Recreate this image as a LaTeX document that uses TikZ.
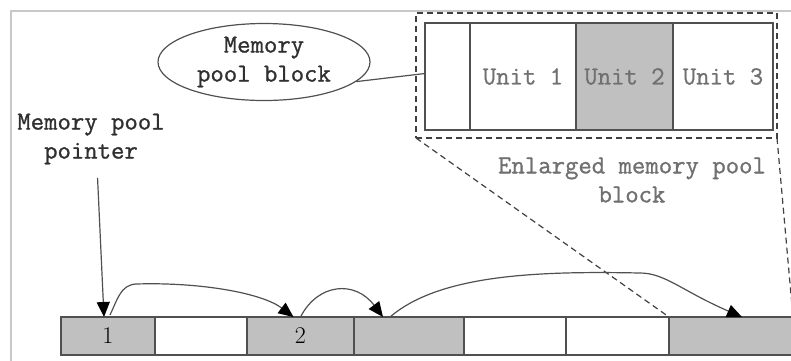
\documentclass[tikz,border=0pt]{standalone}
\usepackage{fontspec}
\usepackage{tikz}
\usetikzlibrary{positioning,arrows.meta,calc,shapes.geometric}
\newfontfamily\poolfont[FakeBold=1]{Latin Modern Mono}
\definecolor{poolcell}{HTML}{C0C0C0}
\definecolor{poolline}{HTML}{505050}
\definecolor{pooltext}{HTML}{303030}
\definecolor{poolhint}{HTML}{707070}
\definecolor{poolframe}{HTML}{C8C8C8}

\begin{document}
\begin{tikzpicture}[x=1pt, y=-1pt, line width=1.2pt,
    cell/.style={draw=poolline, rectangle, outer sep=0pt, inner sep=0pt, minimum height=38pt},
    unit/.style={draw=poolline, rectangle, outer sep=0pt, inner sep=0pt, minimum height=107pt,
      text=poolhint, font=\fontsize{26}{29}\selectfont\poolfont},
    lbl/.style={align=center, inner sep=1pt, font=\fontsize{26}{29}\selectfont\poolfont},
    num/.style={font=\fontsize{24}{24}\selectfont\rmfamily},
    link/.style={draw=poolline, -{Triangle[length=15pt,width=13pt,color=black]}},
    zoomline/.style={draw=black!75, dash pattern=on 6pt off 4pt}]
    \clip (0,0) rectangle (791,360);
    % frame of the page
    \draw[poolframe, line width=1.5pt] (11,362) -- (11,11) -- (793,11);
    % enlarged block
    \node[zoomline, minimum width=361pt, minimum height=125pt, outer sep=0pt] (zoombox) at (596.5,75.5) {};
    \node[unit, minimum width=45pt] (hdr) at (447.5,76.5) {};
    \node[unit, minimum width=106pt, right=0pt of hdr] (unit1) {Unit 1};
    \node[unit, minimum width=97pt, fill=poolcell, right=0pt of unit1] (unit2) {Unit 2};
    \node[unit, minimum width=100pt, right=0pt of unit2] (unit3) {Unit 3};
    \node[draw=poolline, ellipse, minimum width=212pt, minimum height=77pt, inner sep=0pt,
      lbl, text=pooltext] (mpb) at (264,62) {Memory\\pool block};
    \draw[poolline] (mpb.-12) -- ([yshift=3pt]hdr.west);
    \node[lbl, text=poolhint] (enl) at (632,180) {Enlarged memory pool\\block};
    \node[lbl, text=pooltext] (ptr) at (91,139) {Memory pool\\pointer};
    % the pool
    \node[cell, fill=poolcell, minimum width=94pt, num] (blk1) at (108,336) {1};
    \node[cell, minimum width=92pt, right=0pt of blk1] (blk2) {};
    \node[cell, fill=poolcell, minimum width=107pt, num, right=0pt of blk2] (blk3) {2};
    \node[cell, fill=poolcell, minimum width=110pt, right=0pt of blk3] (blk4) {};
    \node[cell, minimum width=102pt, right=0pt of blk4] (blk5) {};
    \node[cell, minimum width=103pt, right=0pt of blk5] (blk6) {};
    \node[cell, fill=poolcell, minimum width=124pt, right=0pt of blk6] (blk7) {};
    \draw[zoomline] (zoombox.south west) -- (blk7.north west);
    \draw[zoomline] (zoombox.south east) -- (blk7.north east);
    % free list
    \draw[link, shorten <=12pt] ([xshift=6pt]ptr.south) -- ([xshift=-4pt]blk1.north);
    \draw[link] ([xshift=2pt,yshift=2pt]blk1.north) .. controls (118,298) and (121,285) .. (136,284)
      .. controls (200,282) and (262,293) .. ([xshift=-7pt]blk3.north);
    \draw[link] (blk3.north) .. controls (318,283) and (355,280) .. ([xshift=-26pt]blk4.north);
    \draw[link] ([xshift=-19pt]blk4.north) .. controls (440,274) and (540,271) .. (640,273)
      .. controls (665,273) and (682,291) .. ([xshift=11pt]blk7.north);
\end{tikzpicture}
\end{document}
